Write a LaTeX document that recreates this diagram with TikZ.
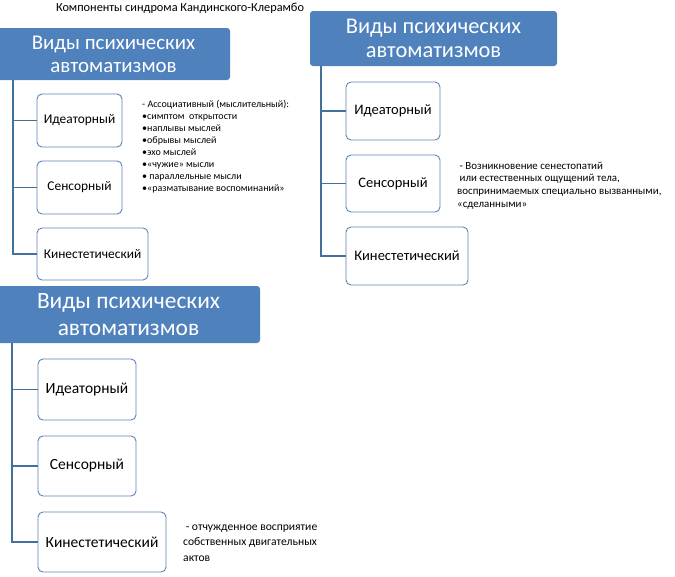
\documentclass[tikz,border=0pt]{standalone}
\usepackage{fontspec}
\setmainfont{Carlito}
\definecolor{hdrblue}{HTML}{4F81BD}
\definecolor{linblue}{HTML}{41719C}
\definecolor{boxblue}{HTML}{5B84B8}
\tikzset{
  hdr/.style={draw=none, fill=hdrblue, rounded corners=3pt, text=white, align=center, inner sep=0pt},
  subbox/.style={draw=boxblue, line width=0.9pt, fill=white, rounded corners=5pt, align=center, inner sep=0pt},
  conn/.style={draw=linblue, line width=1.1pt},
  note/.style={anchor=base west, align=left, inner sep=0pt, text=black}
}
\begin{document}
\begin{tikzpicture}[x=1pt,y=-1pt]
\useasboundingbox (0,0) rectangle (675,576);
\fill[white] (0,0) rectangle (675,576);

\node[inner sep=0pt, font=\fontsize{12.3}{14}\selectfont] (title) at (180,8) {Компоненты синдрома Кандинского-Клерамбо};

% Panel 1
\node[hdr, minimum width=233pt, minimum height=52pt, font=\fontsize{20.9}{23}\selectfont] (h1) at (113.5,54) {Виды психических\\автоматизмов};
\node[subbox, minimum width=85pt, minimum height=53pt, font=\fontsize{13.4}{16}\selectfont] (i1) at (79.5,120.5) {Идеаторный};
\node[subbox, minimum width=85pt, minimum height=53pt, font=\fontsize{13.4}{16}\selectfont] (s1) at (79.5,187.5) {Сенсорный};
\node[subbox, minimum width=111pt, minimum height=52pt, font=\fontsize{13.4}{16}\selectfont] (k1) at (92.5,254) {Кинестетический};
\coordinate (v1) at (13,254);
\draw[conn] (h1.south -| v1) -- (v1) -- (k1.west);
\draw[conn] (v1 |- i1.west) -- (i1.west);
\draw[conn] (v1 |- s1.west) -- (s1.west);
\node[note, font=\fontsize{10}{12}\selectfont] (n1) at (142,191.5) {- Ассоциативный (мыслительный):\\
•симптом\ \ открытости\\
•наплывы мыслей\\
•обрывы мыслей\\
•эхо мыслей\\
•«чужие» мысли\\
• параллельные мысли\\
•«разматывание воспоминаний»};

% Panel 2
\node[hdr, minimum width=247pt, minimum height=55pt, font=\fontsize{22.4}{24}\selectfont] (h2) at (433.5,38.5) {Виды психических\\автоматизмов};
\node[subbox, minimum width=94pt, minimum height=58pt, font=\fontsize{14.5}{17}\selectfont] (i2) at (393,111) {Идеаторный};
\node[subbox, minimum width=94pt, minimum height=57pt, font=\fontsize{14.5}{17}\selectfont] (s2) at (393,183.5) {Сенсорный};
\node[subbox, minimum width=122pt, minimum height=58pt, font=\fontsize{14.5}{17}\selectfont] (k2) at (407,256) {Кинестетический};
\coordinate (v2) at (321,256);
\draw[conn] (h2.south -| v2) -- (v2) -- (k2.west);
\draw[conn] (v2 |- i2.west) -- (i2.west);
\draw[conn] (v2 |- s2.west) -- (s2.west);
\node[note, font=\fontsize{10.9}{12.8}\selectfont] (n2) at (457,207.5) {\ - Возникновение сенестопатий\\
\ или естественных ощущений тела,\\
воспринимаемых специально вызванными,\\
«сделанными»};

% Panel 3
\node[hdr, minimum width=263pt, minimum height=57pt, font=\fontsize{23.4}{27}\selectfont] (h3) at (128.5,314.5) {Виды психических\\автоматизмов};
\node[subbox, minimum width=98pt, minimum height=61pt, font=\fontsize{15.5}{18}\selectfont] (i3) at (87,389.5) {Идеаторный};
\node[subbox, minimum width=98pt, minimum height=60pt, font=\fontsize{15.5}{18}\selectfont] (s3) at (87,466) {Сенсорный};
\node[subbox, minimum width=128pt, minimum height=60pt, font=\fontsize{15.5}{18}\selectfont] (k3) at (102,542) {Кинестетический};
\coordinate (v3) at (12,542);
\draw[conn] (h3.south -| v3) -- (v3) -- (k3.west);
\draw[conn] (v3 |- i3.west) -- (i3.west);
\draw[conn] (v3 |- s3.west) -- (s3.west);
\node[note, font=\fontsize{11.6}{15.5}\selectfont] (n3) at (183,561) {\ - отчужденное восприятие\\
собственных двигательных\\
актов};
\end{tikzpicture}
\end{document}
